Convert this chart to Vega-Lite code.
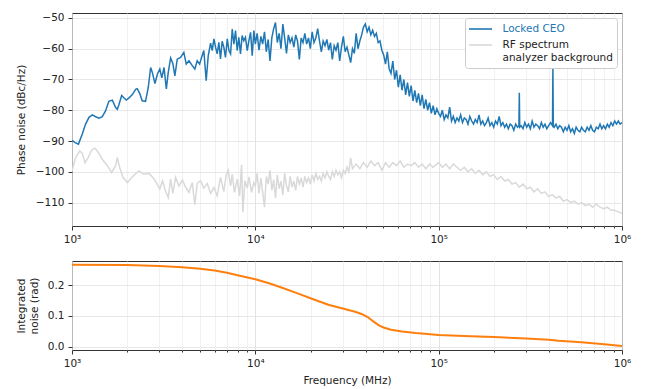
{
  "$schema": "https://vega.github.io/schema/vega-lite/v6.json",
  "padding": {"left": 15, "top": 12, "right": 5, "bottom": 5},
  "spacing": 15,
  "config": {
    "font": "DejaVu Sans",
    "view": {"stroke": "#333333", "strokeWidth": 1},
    "axis": {
      "labelFont": "DejaVu Sans", "labelFontSize": 10.5, "labelColor": "#222222",
      "titleFont": "DejaVu Sans", "titleFontSize": 10.5, "titleFontWeight": "normal", "titleColor": "#222222",
      "domain": false, "tickColor": "#333333", "gridColor": "#e2e2e2", "gridWidth": 0.8, "labelPadding": 4, "tickCount": 100
    }
  },
  "datasets": {
    "blue": [
      {"f":1000,"db":-89.8},{"f":1040,"db":-90.5},{"f":1084,"db":-91.0},{"f":1138,"db":-87.7},{"f":1186,"db":-84.5},{"f":1238,"db":-82.3},{"f":1291,"db":-81.5},{"f":1346,"db":-82.1},{"f":1403,"db":-82.6},{"f":1462,"db":-82.1},{"f":1524,"db":-80.2},{"f":1589,"db":-77.1},{"f":1660,"db":-76.7},{"f":1730,"db":-79.1},{"f":1766,"db":-79.7},{"f":1803,"db":-78.2},{"f":1866,"db":-75.2},{"f":1923,"db":-76.0},{"f":1977,"db":-76.7},{"f":2046,"db":-76.0},{"f":2133,"db":-74.9},{"f":2223,"db":-73.2},{"f":2270,"db":-73.0},{"f":2339,"db":-74.5},{"f":2415,"db":-76.9},{"f":2518,"db":-77.1},{"f":2606,"db":-72.6},{"f":2685,"db":-66.1},{"f":2742,"db":-67.7},{"f":2834,"db":-71.3},{"f":2924,"db":-68.2},{"f":3013,"db":-66.6},{"f":3090,"db":-69.5},{"f":3177,"db":-66.1},{"f":3270,"db":-73.1},{"f":3350,"db":-67.7},{"f":3451,"db":-63.0},{"f":3548,"db":-64.8},{"f":3640,"db":-68.8},{"f":3750,"db":-63.4},{"f":3910,"db":-62.8},{"f":4074,"db":-61.2},{"f":4198,"db":-65.0},{"f":4345,"db":-63.9},{"f":4529,"db":-65.5},{"f":4677,"db":-66.6},{"f":4820,"db":-63.9},{"f":4966,"db":-65.0},{"f":5093,"db":-62.8},{"f":5236,"db":-60.6},{"f":5395,"db":-70.4},{"f":5534,"db":-62.3},{"f":5702,"db":-58.2},{"f":5821,"db":-60.6},{"f":5943,"db":-56.8},{"f":6067,"db":-59.5},{"f":6194,"db":-61.7},{"f":6324,"db":-57.9},{"f":6457,"db":-63.3},{"f":6592,"db":-57.6},{"f":6730,"db":-59.5},{"f":6871,"db":-62.8},{"f":7031,"db":-56.8},{"f":7178,"db":-60.6},{"f":7328,"db":-61.7},{"f":7482,"db":-53.6},{"f":7638,"db":-58.5},{"f":7798,"db":-54.1},{"f":7962,"db":-60.6},{"f":8128,"db":-56.3},{"f":8299,"db":-61.7},{"f":8472,"db":-55.7},{"f":8650,"db":-57.4},{"f":8831,"db":-56.3},{"f":9036,"db":-60.6},{"f":9226,"db":-57.4},{"f":9419,"db":-54.7},{"f":9616,"db":-62.3},{"f":9817,"db":-54.1},
      {"f":10000,"db":-58.5},{"f":10230,"db":-55.0},{"f":10470,"db":-60.5},{"f":10720,"db":-56.0},{"f":10960,"db":-58.5},{"f":11220,"db":-54.5},{"f":11480,"db":-61.0},{"f":11750,"db":-57.0},{"f":12020,"db":-64.0},{"f":12300,"db":-56.5},{"f":12590,"db":-53.5},{"f":12880,"db":-51.5},{"f":13180,"db":-58.0},{"f":13490,"db":-55.0},{"f":13800,"db":-60.0},{"f":14130,"db":-52.0},{"f":14450,"db":-56.5},{"f":14790,"db":-61.5},{"f":15140,"db":-55.5},{"f":15490,"db":-58.0},{"f":15850,"db":-56.5},{"f":16220,"db":-59.5},{"f":16600,"db":-55.5},{"f":16980,"db":-57.5},{"f":17380,"db":-63.5},{"f":17780,"db":-56.5},{"f":18200,"db":-58.0},{"f":18620,"db":-55.0},{"f":19050,"db":-58.5},{"f":19500,"db":-56.5},{"f":19950,"db":-60.0},{"f":20420,"db":-54.5},{"f":20890,"db":-58.0},{"f":21380,"db":-56.5},{"f":21880,"db":-53.5},{"f":22390,"db":-57.5},{"f":22910,"db":-61.0},{"f":23440,"db":-57.5},{"f":23990,"db":-59.0},{"f":24550,"db":-57.0},{"f":25120,"db":-60.5},{"f":25700,"db":-58.0},{"f":26300,"db":-63.5},{"f":26920,"db":-59.0},{"f":27540,"db":-60.5},{"f":28180,"db":-58.0},{"f":28840,"db":-64.0},{"f":29510,"db":-59.5},{"f":30200,"db":-56.0},{"f":30900,"db":-61.0},{"f":31620,"db":-59.5},{"f":32360,"db":-62.0},{"f":33110,"db":-64.5},{"f":33880,"db":-60.0},{"f":34670,"db":-61.5},{"f":35480,"db":-55.0},{"f":36310,"db":-60.0},{"f":37150,"db":-57.5},{"f":38020,"db":-55.5},{"f":38900,"db":-53.0},{"f":39810,"db":-52.0},{"f":40740,"db":-54.5},{"f":41690,"db":-53.0},{"f":42660,"db":-55.5},{"f":43650,"db":-54.0},{"f":44670,"db":-56.0},{"f":45710,"db":-55.0},{"f":46770,"db":-58.0},{"f":47860,"db":-57.5},{"f":48980,"db":-60.5},{"f":50120,"db":-62.0},{"f":51290,"db":-65.0},{"f":52480,"db":-61.0},{"f":53700,"db":-66.5},{"f":54950,"db":-68.0},{"f":56230,"db":-64.0},{"f":57540,"db":-70.0},{"f":58880,"db":-67.0},{"f":60260,"db":-72.5},{"f":61660,"db":-68.5},{"f":63100,"db":-73.5},{"f":64570,"db":-70.0},{"f":66070,"db":-75.0},{"f":67610,"db":-71.0},{"f":69180,"db":-75.5},{"f":70790,"db":-72.0},{"f":72440,"db":-77.0},{"f":74130,"db":-73.5},{"f":75860,"db":-77.5},{"f":77620,"db":-74.5},{"f":79430,"db":-78.5},{"f":81280,"db":-75.0},{"f":83180,"db":-79.5},{"f":85110,"db":-76.5},{"f":87100,"db":-80.0},{"f":89130,"db":-77.5},{"f":91200,"db":-81.0},{"f":93330,"db":-78.5},{"f":95500,"db":-81.5},{"f":97720,"db":-79.5},
      {"f":100000,"db":-81.0},{"f":102300,"db":-82.0},{"f":104700,"db":-80.0},{"f":107200,"db":-83.0},{"f":109600,"db":-81.5},{"f":112200,"db":-82.5},{"f":114800,"db":-79.0},{"f":117500,"db":-83.5},{"f":120200,"db":-82.0},{"f":123000,"db":-84.0},{"f":125900,"db":-82.5},{"f":128800,"db":-83.5},{"f":131800,"db":-81.5},{"f":134900,"db":-84.0},{"f":138000,"db":-82.5},{"f":141300,"db":-83.0},{"f":144500,"db":-84.5},{"f":147900,"db":-82.0},{"f":151400,"db":-83.5},{"f":154900,"db":-84.5},{"f":158500,"db":-83.0},{"f":162200,"db":-84.0},{"f":166000,"db":-81.5},{"f":169800,"db":-84.5},{"f":173800,"db":-83.5},{"f":177800,"db":-85.0},{"f":182000,"db":-84.0},{"f":186200,"db":-82.5},{"f":190500,"db":-85.0},{"f":195000,"db":-84.0},{"f":199500,"db":-85.5},{"f":204200,"db":-83.5},{"f":208900,"db":-84.5},{"f":213800,"db":-82.0},{"f":218800,"db":-85.0},{"f":223900,"db":-84.0},{"f":229100,"db":-85.5},{"f":234400,"db":-84.5},{"f":239900,"db":-86.0},{"f":245500,"db":-84.5},{"f":251200,"db":-85.0},{"f":257000,"db":-86.5},{"f":263000,"db":-84.5},{"f":269200,"db":-85.5},{"f":274000,"db":-85.0},{"f":275400,"db":-74.3},{"f":276800,"db":-85.5},{"f":281800,"db":-85.0},{"f":288400,"db":-86.0},{"f":295100,"db":-84.0},{"f":302000,"db":-85.5},{"f":309000,"db":-84.5},{"f":316200,"db":-86.0},{"f":323600,"db":-83.5},{"f":331100,"db":-85.5},{"f":338800,"db":-84.5},{"f":346700,"db":-85.0},{"f":354800,"db":-86.0},{"f":363100,"db":-84.0},{"f":371500,"db":-85.5},{"f":380200,"db":-84.5},{"f":389000,"db":-86.0},{"f":398100,"db":-85.0},{"f":407400,"db":-84.0},{"f":417700,"db":-85.0},{"f":419800,"db":-66.0},{"f":421900,"db":-85.0},{"f":426600,"db":-85.5},{"f":436500,"db":-84.5},{"f":446700,"db":-86.0},{"f":457100,"db":-85.0},{"f":467700,"db":-85.5},{"f":478600,"db":-87.0},{"f":489800,"db":-85.5},{"f":501200,"db":-86.5},{"f":512900,"db":-85.0},{"f":524800,"db":-87.0},{"f":537000,"db":-86.0},{"f":549500,"db":-87.5},{"f":562300,"db":-85.5},{"f":575400,"db":-86.5},{"f":588800,"db":-87.0},{"f":602600,"db":-85.5},{"f":616600,"db":-86.5},{"f":631000,"db":-87.0},{"f":645700,"db":-85.5},{"f":660700,"db":-86.5},{"f":676100,"db":-85.0},{"f":691800,"db":-86.5},{"f":707900,"db":-87.0},{"f":724400,"db":-85.5},{"f":741300,"db":-86.0},{"f":758600,"db":-84.5},{"f":776200,"db":-86.0},{"f":794300,"db":-85.0},{"f":812800,"db":-86.0},{"f":831800,"db":-84.5},{"f":851100,"db":-85.5},{"f":871000,"db":-84.0},{"f":891300,"db":-85.0},{"f":912000,"db":-83.5},{"f":933300,"db":-84.5},{"f":955000,"db":-83.5},{"f":977200,"db":-84.5},{"f":1000000,"db":-84.0}
    ],
    "gray": [
      {"f":1000,"db":-99.7},{"f":1047,"db":-95.3},{"f":1102,"db":-93.2},{"f":1138,"db":-94.0},{"f":1178,"db":-97.0},{"f":1227,"db":-95.3},{"f":1279,"db":-93.0},{"f":1334,"db":-92.3},{"f":1393,"db":-93.7},{"f":1462,"db":-95.9},{"f":1560,"db":-98.0},{"f":1644,"db":-100.2},{"f":1730,"db":-98.0},{"f":1766,"db":-95.3},{"f":1820,"db":-98.6},{"f":1897,"db":-101.8},{"f":2004,"db":-103.5},{"f":2133,"db":-101.6},{"f":2317,"db":-99.7},{"f":2466,"db":-100.8},{"f":2630,"db":-100.5},{"f":2761,"db":-101.8},{"f":2884,"db":-103.5},{"f":3013,"db":-105.6},{"f":3117,"db":-102.9},{"f":3236,"db":-106.2},{"f":3350,"db":-108.4},{"f":3451,"db":-102.4},{"f":3548,"db":-107.0},{"f":3673,"db":-101.8},{"f":3828,"db":-104.6},{"f":4000,"db":-102.7},{"f":4159,"db":-104.9},{"f":4345,"db":-106.7},{"f":4529,"db":-103.5},{"f":4677,"db":-110.7},{"f":4820,"db":-103.8},{"f":5023,"db":-102.9},{"f":5236,"db":-105.3},{"f":5470,"db":-103.8},{"f":5702,"db":-107.0},{"f":5943,"db":-105.1},{"f":6194,"db":-107.8},{"f":6457,"db":-101.8},{"f":6730,"db":-106.4},{"f":6934,"db":-101.0},{"f":7112,"db":-99.5},{"f":7328,"db":-104.6},{"f":7482,"db":-100.8},{"f":7691,"db":-106.7},{"f":7962,"db":-102.4},{"f":8204,"db":-107.8},{"f":8414,"db":-97.7},{"f":8551,"db":-113.2},{"f":8770,"db":-102.9},{"f":9036,"db":-105.3},{"f":9226,"db":-101.6},{"f":9528,"db":-106.7},{"f":9817,"db":-103.5},
      {"f":10000,"db":-104.5},{"f":10230,"db":-100.5},{"f":10470,"db":-107.0},{"f":10720,"db":-102.0},{"f":10960,"db":-106.5},{"f":11220,"db":-111.5},{"f":11480,"db":-101.5},{"f":11750,"db":-104.0},{"f":12020,"db":-99.5},{"f":12300,"db":-106.0},{"f":12590,"db":-102.5},{"f":12880,"db":-108.5},{"f":13180,"db":-101.0},{"f":13490,"db":-105.5},{"f":13800,"db":-103.0},{"f":14130,"db":-107.5},{"f":14450,"db":-100.5},{"f":14790,"db":-104.5},{"f":15140,"db":-106.5},{"f":15490,"db":-101.5},{"f":15850,"db":-105.0},{"f":16220,"db":-103.0},{"f":16600,"db":-106.0},{"f":16980,"db":-101.5},{"f":17380,"db":-104.0},{"f":17780,"db":-102.0},{"f":18200,"db":-105.0},{"f":18620,"db":-101.5},{"f":19050,"db":-103.5},{"f":19500,"db":-102.0},{"f":19950,"db":-104.0},{"f":20420,"db":-101.0},{"f":20890,"db":-103.0},{"f":21380,"db":-100.5},{"f":21880,"db":-102.5},{"f":22390,"db":-101.5},{"f":22910,"db":-103.0},{"f":23440,"db":-100.5},{"f":23990,"db":-102.0},{"f":24550,"db":-100.0},{"f":25120,"db":-101.5},{"f":25700,"db":-102.5},{"f":26300,"db":-100.0},{"f":26920,"db":-101.5},{"f":27540,"db":-99.5},{"f":28180,"db":-101.0},{"f":28840,"db":-100.0},{"f":29510,"db":-102.0},{"f":30200,"db":-99.5},{"f":30900,"db":-100.5},{"f":31620,"db":-98.5},{"f":32360,"db":-100.0},{"f":33110,"db":-95.5},{"f":33880,"db":-99.0},{"f":35480,"db":-97.5},{"f":37150,"db":-99.0},{"f":38900,"db":-97.0},{"f":40740,"db":-98.5},{"f":42660,"db":-96.5},{"f":44670,"db":-98.0},{"f":46770,"db":-97.0},{"f":48980,"db":-99.5},{"f":51290,"db":-97.0},{"f":53700,"db":-98.5},{"f":56230,"db":-97.0},{"f":58880,"db":-98.0},{"f":61660,"db":-96.5},{"f":64570,"db":-98.5},{"f":67610,"db":-97.5},{"f":70790,"db":-98.0},{"f":74130,"db":-97.0},{"f":77620,"db":-98.5},{"f":81280,"db":-97.5},{"f":85110,"db":-99.0},{"f":89130,"db":-97.5},{"f":93330,"db":-98.5},{"f":97720,"db":-97.5},
      {"f":100000,"db":-97.0},{"f":104700,"db":-98.5},{"f":109600,"db":-97.5},{"f":114800,"db":-99.0},{"f":120200,"db":-97.5},{"f":125900,"db":-98.5},{"f":131800,"db":-99.5},{"f":138000,"db":-98.5},{"f":144500,"db":-100.0},{"f":151400,"db":-99.0},{"f":158500,"db":-100.5},{"f":166000,"db":-99.5},{"f":173800,"db":-101.0},{"f":182000,"db":-100.0},{"f":190500,"db":-101.5},{"f":199500,"db":-101.0},{"f":208900,"db":-102.5},{"f":218800,"db":-101.5},{"f":229100,"db":-103.0},{"f":239900,"db":-102.5},{"f":251200,"db":-104.0},{"f":263000,"db":-103.5},{"f":275400,"db":-105.0},{"f":288400,"db":-104.0},{"f":302000,"db":-105.5},{"f":316200,"db":-105.0},{"f":331100,"db":-106.5},{"f":346700,"db":-105.5},{"f":363100,"db":-107.0},{"f":380200,"db":-106.5},{"f":398100,"db":-108.0},{"f":416900,"db":-107.5},{"f":436500,"db":-108.5},{"f":457100,"db":-108.0},{"f":478600,"db":-109.5},{"f":501200,"db":-109.0},{"f":524800,"db":-110.0},{"f":549500,"db":-109.5},{"f":575400,"db":-110.5},{"f":602600,"db":-110.0},{"f":631000,"db":-111.0},{"f":660700,"db":-110.5},{"f":691800,"db":-111.5},{"f":724400,"db":-110.5},{"f":758600,"db":-111.5},{"f":794300,"db":-112.0},{"f":831800,"db":-111.5},{"f":871000,"db":-112.5},{"f":912000,"db":-112.5},{"f":955000,"db":-113.0},{"f":1000000,"db":-113.5}
    ],
    "orange": [
      {"f":1000,"v":0.266},{"f":2000,"v":0.265},{"f":3000,"v":0.262},{"f":4000,"v":0.258},{"f":5000,"v":0.253},{"f":6000,"v":0.247},{"f":7000,"v":0.240},{"f":8000,"v":0.232},{"f":10000,"v":0.219},{"f":12000,"v":0.205},{"f":14000,"v":0.191},{"f":17000,"v":0.173},{"f":20000,"v":0.157},{"f":25000,"v":0.136},{"f":30000,"v":0.124},{"f":35000,"v":0.113},{"f":38000,"v":0.106},{"f":41000,"v":0.096},{"f":44000,"v":0.082},{"f":47000,"v":0.070},{"f":50000,"v":0.062},{"f":55000,"v":0.055},{"f":63000,"v":0.049},{"f":75000,"v":0.044},{"f":100000,"v":0.038},{"f":150000,"v":0.034},{"f":200000,"v":0.031},{"f":300000,"v":0.026},{"f":400000,"v":0.022},{"f":450000,"v":0.019},{"f":600000,"v":0.014},{"f":800000,"v":0.008},{"f":1000000,"v":0.002}
    ]
  },
  "vconcat": [
    {
      "width": 550, "height": 213,
      "encoding": {
        "x": {"field": "f", "type": "quantitative",
          "scale": {"type": "log", "domain": [1000, 1000000]},
          "axis": {"title": null, "values": [1000,2000,3000,4000,5000,6000,7000,8000,9000,10000,20000,30000,40000,50000,60000,70000,80000,90000,100000,200000,300000,400000,500000,600000,700000,800000,900000,1000000],
            "labelExpr": "datum.value == 1000 ? '10³' : datum.value == 10000 ? '10⁴' : datum.value == 100000 ? '10⁵' : datum.value == 1000000 ? '10⁶' : ''",
            "labelFlush": false, "labelOverlap": false,
            "tickSize": {"condition": {"test": "indexof([1000,10000,100000,1000000], datum.value) >= 0", "value": 4}, "value": 2},
            "gridColor": {"condition": {"test": "indexof([1000,10000,100000,1000000], datum.value) >= 0", "value": "#dcdcdc"}, "value": "#eeeeee"}}},
        "y": {"field": "db", "type": "quantitative",
          "scale": {"domain": [-117.6, -48.4], "nice": false, "zero": false},
          "axis": {"title": "Phase noise (dBc/Hz)", "values": [-110,-100,-90,-80,-70,-60,-50], "format": "d", "labelOverlap": false, "tickSize": 4, "titlePadding": 9}}
      },
      "layer": [
        {
          "data": {"name": "gray"},
          "mark": {"type": "line", "strokeWidth": 1.5, "clip": true},
          "encoding": {
            "color": {"datum": "RF spectrum analyzer background", "type": "nominal",
              "scale": {"domain": ["Locked CEO", "RF spectrum analyzer background"], "range": ["#1f77b4", "#d9d9d9"]},
              "legend": {"orient": "top-right", "offset": 5, "title": null, "fillColor": "white", "strokeColor": "#cccccc", "cornerRadius": 3, "padding": 4,
                "symbolType": "M-2,0H2", "symbolSize": 132, "symbolStrokeWidth": 1.6, "symbolFillColor": "transparent", "labelFontSize": 10.5, "labelFont": "DejaVu Sans", "labelOffset": 19.5, "labelLimit": 300, "rowPadding": 3,
                "labelExpr": "datum.value == 'Locked CEO' ? 'Locked CEO' : ['RF spectrum', 'analyzer background']",
                "encode": {
                  "symbols": {"update": {"xc": {"value": 11.5}}},
                  "labels": {"update": {"fill": {"signal": "datum.value == 'Locked CEO' ? '#1f77b4' : '#222222'"}, "lineHeight": {"value": 13}}}}}}
          }
        },
        {
          "data": {"name": "blue"},
          "mark": {"type": "line", "strokeWidth": 1.5, "clip": true},
          "encoding": {
            "color": {"datum": "Locked CEO", "type": "nominal"}
          }
        }
      ]
    },
    {
      "width": 550, "height": 89,
      "data": {"name": "orange"},
      "mark": {"type": "line", "strokeWidth": 2, "color": "#ff7f0e", "clip": true},
      "encoding": {
        "x": {"field": "f", "type": "quantitative",
          "scale": {"type": "log", "domain": [1000, 1000000]},
          "axis": {"title": "Frequency (MHz)", "titlePadding": 7, "values": [1000,2000,3000,4000,5000,6000,7000,8000,9000,10000,20000,30000,40000,50000,60000,70000,80000,90000,100000,200000,300000,400000,500000,600000,700000,800000,900000,1000000],
            "labelExpr": "datum.value == 1000 ? '10³' : datum.value == 10000 ? '10⁴' : datum.value == 100000 ? '10⁵' : datum.value == 1000000 ? '10⁶' : ''",
            "labelFlush": false, "labelOverlap": false,
            "tickSize": {"condition": {"test": "indexof([1000,10000,100000,1000000], datum.value) >= 0", "value": 4}, "value": 2},
            "gridColor": {"condition": {"test": "indexof([1000,10000,100000,1000000], datum.value) >= 0", "value": "#dcdcdc"}, "value": "#eeeeee"}}},
        "y": {"field": "v", "type": "quantitative",
          "scale": {"domain": [-0.011, 0.278], "nice": false, "zero": false},
          "axis": {"title": ["Integrated", "noise (rad)"], "values": [0, 0.1, 0.2], "format": ".1f", "labelOverlap": false, "tickSize": 4, "titlePadding": 8}}
      }
    }
  ]
}
